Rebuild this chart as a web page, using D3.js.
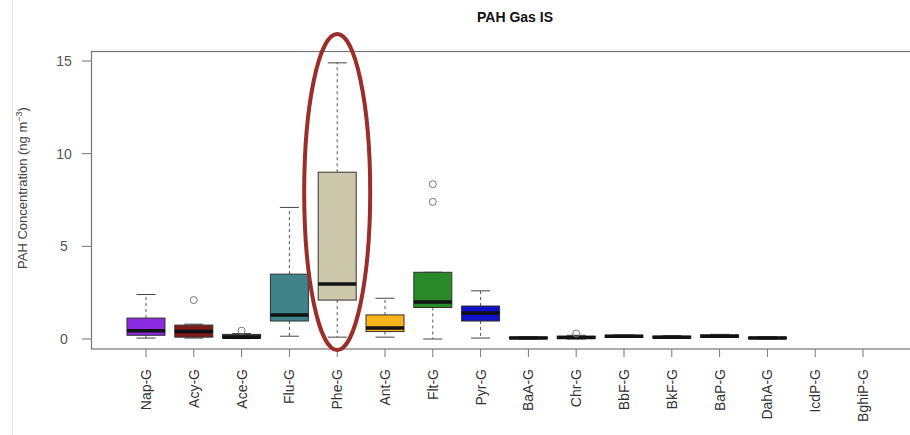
<!DOCTYPE html>
<html>
<head>
<meta charset="utf-8">
<script src="https://cdn.jsdelivr.net/npm/d3@7"></script>
<style>
  body { margin: 0; background: #fff; }
  svg { font-family: "Liberation Sans", Arial, sans-serif; }
</style>
</head>
<body>
<div id="chart"></div>
<script>
// chart data
var categories = ["Nap-G", "Acy-G", "Ace-G", "Flu-G", "Phe-G", "Ant-G", "Flt-G", "Pyr-G",
  "BaA-G", "Chr-G", "BbF-G", "BkF-G", "BaP-G", "DahA-G", "IcdP-G", "BghiP-G"];
var lowWhisker = [0.05, 0.05, 0.02, 0.15, 0.1, 0.1, 0.0, 0.05, 0.0, 0.0, 0.08, 0.05, 0.08, 0.0, null, null];
var q1Values = [0.2, 0.1, 0.05, 0.97, 2.1, 0.4, 1.7, 0.97, 0.02, 0.03, 0.1, 0.06, 0.1, 0.02, null, null];
var medianValues = [0.45, 0.4, 0.1, 1.3, 2.97, 0.6, 2.0, 1.4, 0.05, 0.08, 0.15, 0.1, 0.15, 0.05, null, null];
var q3Values = [1.13, 0.75, 0.25, 3.5, 9.0, 1.3, 3.6, 1.78, 0.1, 0.15, 0.2, 0.15, 0.22, 0.1, null, null];
var highWhisker = [2.4, 0.8, 0.3, 7.1, 14.9, 2.2, 3.6, 2.6, 0.12, 0.2, 0.22, 0.18, 0.25, 0.12, null, null];
var outliers = [[], [2.1], [0.45], [], [], [], [8.35, 7.4], [], [], [0.3], [], [], [], [], [], []];
var boxColors = ["#8a2be2", "#7d1a1a", "#333333", "#3f8288", "#cdc7ab", "#f7b41c", "#2a8a2a", "#1010c8",
  "#222222", "#222222", "#222222", "#222222", "#222222", "#222222", "#222222", "#222222"];
var yTicks = [0, 5, 10, 15];

var width = 910, height = 435;
var svg = d3.select("#chart").append("svg").attr("width", width).attr("height", height);

// plot region like R: xlim = c(0.5, n + 0.5) with 4% extension
var n = categories.length;
var x = d3.scaleLinear().domain([0.5 - 0.04 * n, n + 0.5 + 0.04 * n]).range([91.5, 917.5]);
var y = d3.scaleLinear().domain([0, 15]).range([339, 61]);
var boxHalf = 19;

// faint page edge on the left
svg.append("line").attr("x1", 12.5).attr("x2", 12.5).attr("y1", 0).attr("y2", height)
  .attr("stroke", "#e4e4e4").attr("stroke-width", 1);

// title
svg.append("text").attr("x", 515).attr("y", 22).attr("text-anchor", "middle")
  .attr("font-size", 14).attr("font-weight", "bold").attr("fill", "#111").text("PAH Gas IS");

// plot frame
svg.append("rect").attr("x", 91.5).attr("y", 51.5).attr("width", 917.5 - 91.5).attr("height", 349 - 51.5)
  .attr("fill", "none").attr("stroke", "#777").attr("stroke-width", 1.2);

// y axis ticks + labels
var yAxis = svg.append("g");
yTicks.forEach(function (t) {
  yAxis.append("line").attr("x1", 82).attr("x2", 91.5).attr("y1", y(t)).attr("y2", y(t))
    .attr("stroke", "#777");
  yAxis.append("text").attr("x", 64).attr("y", y(t)).attr("dy", "0.35em").attr("text-anchor", "middle")
    .attr("font-size", 14).attr("fill", "#555").text(t);
});

// y axis title
var ytitle = svg.append("text").attr("transform", "translate(27,188) rotate(-90)")
  .attr("text-anchor", "middle").attr("font-size", 13).attr("fill", "#444");
ytitle.append("tspan").text("PAH Concentration (ng m");
ytitle.append("tspan").attr("dy", -5).attr("font-size", 9).text("\u22123");
ytitle.append("tspan").attr("dy", 5).text(")");

// x axis ticks + rotated labels
categories.forEach(function (c, i) {
  var cx = x(i + 1);
  svg.append("line").attr("x1", cx).attr("x2", cx).attr("y1", 349).attr("y2", 357).attr("stroke", "#777");
  svg.append("text").attr("transform", "translate(" + (cx + 5) + ",369) rotate(-90)")
    .attr("text-anchor", "end").attr("font-size", 14).attr("fill", "#333").text(c);
});

// boxes
var boxes = svg.append("g");
categories.forEach(function (c, i) {
  if (medianValues[i] === null) return;
  var cx = x(i + 1);
  var g = boxes.append("g");
  // whiskers
  g.append("line").attr("x1", cx).attr("x2", cx).attr("y1", y(q3Values[i])).attr("y2", y(highWhisker[i]))
    .attr("stroke", "#555").attr("stroke-dasharray", "3,3");
  g.append("line").attr("x1", cx).attr("x2", cx).attr("y1", y(q1Values[i])).attr("y2", y(lowWhisker[i]))
    .attr("stroke", "#555").attr("stroke-dasharray", "3,3");
  [highWhisker[i], lowWhisker[i]].forEach(function (v) {
    g.append("line").attr("x1", cx - boxHalf / 2).attr("x2", cx + boxHalf / 2).attr("y1", y(v)).attr("y2", y(v))
      .attr("stroke", "#444");
  });
  // box
  g.append("rect").attr("x", cx - boxHalf).attr("width", boxHalf * 2)
    .attr("y", y(q3Values[i])).attr("height", Math.max(1, y(q1Values[i]) - y(q3Values[i])))
    .attr("fill", boxColors[i]).attr("stroke", "#333").attr("stroke-width", 1);
  // median
  g.append("line").attr("x1", cx - boxHalf).attr("x2", cx + boxHalf)
    .attr("y1", y(medianValues[i])).attr("y2", y(medianValues[i]))
    .attr("stroke", "#111").attr("stroke-width", 3.5);
  // outliers
  outliers[i].forEach(function (v) {
    g.append("circle").attr("cx", cx).attr("cy", y(v)).attr("r", 3.5)
      .attr("fill", "none").attr("stroke", "#777");
  });
});

// red highlight ellipse around Phe-G
var pheX = x(categories.indexOf("Phe-G") + 1);
svg.append("ellipse").attr("cx", pheX).attr("cy", 192).attr("rx", 33).attr("ry", 158)
  .attr("fill", "none").attr("stroke", "#9a2e2b").attr("stroke-width", 4);
</script>
</body>
</html>
